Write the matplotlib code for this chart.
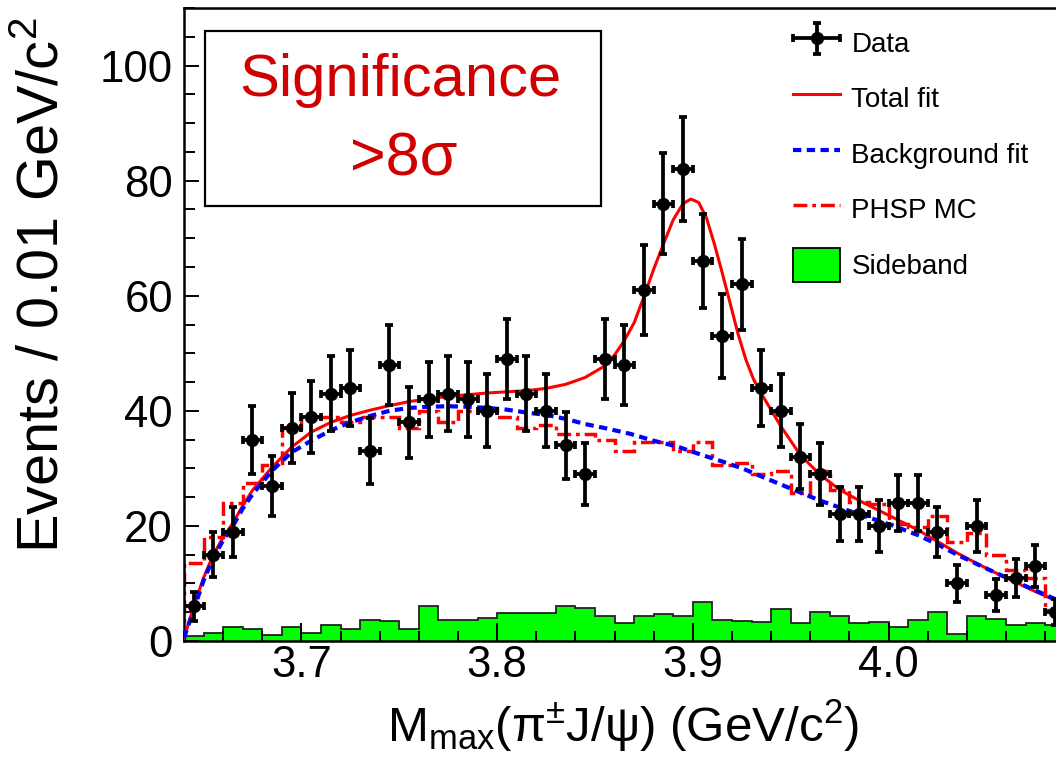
import numpy as np
import matplotlib
matplotlib.use('Agg')
import matplotlib.pyplot as plt
from matplotlib.patches import Rectangle, Patch
from matplotlib.lines import Line2D
from matplotlib.legend_handler import HandlerErrorbar
from matplotlib.ticker import MultipleLocator, FixedLocator, FixedFormatter

plt.rcParams['font.family'] = ['Liberation Sans', 'DejaVu Sans']
plt.rcParams['mathtext.fontset'] = 'custom'
plt.rcParams['mathtext.rm'] = 'Liberation Sans'
plt.rcParams['mathtext.it'] = 'Liberation Sans:italic'
plt.rcParams['mathtext.bf'] = 'Liberation Sans:bold'

# ---------------- data ----------------
bin_lo = 3.64
bin_w = 0.01
n_bins = 45

data_counts = [6, 15, 19, 35, 27, 37, 39, 43, 44, 33,
               48, 38, 42, 43, 42, 40, 49, 43, 40, 34,
               29, 49, 48, 61, 76, 82, 66, 53, 62, 44,
               40, 32, 29, 22, 22, 20, 24, 24, 19, 10,
               20, 8, 11, 13, 5]

sideband = [0.8, 1.4, 2.4, 2.0, 1.0, 2.4, 1.4, 2.8, 2.0, 3.6,
            3.4, 2.0, 6.1, 3.6, 3.6, 4.0, 4.8, 4.8, 4.8, 6.1,
            5.8, 4.4, 3.1, 4.4, 4.7, 4.4, 6.7, 3.6, 3.5, 3.3,
            5.5, 3.1, 5.0, 4.3, 3.1, 3.3, 2.4, 3.6, 5.0, 1.2,
            4.3, 3.8, 2.7, 3.1, 2.7]

phsp_mc = [13.6, 18, 24, 27.5, 30.5, 37, 39, 39, 38, 39,
           39, 37, 40, 38, 40, 40, 39, 37, 37.5, 36,
           36, 35, 33, 34.5, 34.5, 33.1, 34.5, 30.5, 31, 29,
           29.6, 25.7, 29.6, 26.2, 24.1, 23.8, 20.4, 19.8, 21.8, 17.2,
           18.8, 14.9, 12.3, 10.9, 5.4]

bkg_x = [3.640, 3.645, 3.650, 3.655, 3.660, 3.665, 3.670, 3.675, 3.685, 3.695,
         3.705, 3.715, 3.725, 3.735, 3.745, 3.755, 3.765, 3.775, 3.785, 3.795,
         3.805, 3.815, 3.825, 3.835, 3.845, 3.855, 3.868, 3.880, 3.892, 3.904,
         3.915, 3.926, 3.935, 3.945, 3.955, 3.965, 3.975, 3.985, 3.995, 4.005,
         4.015, 4.025, 4.035, 4.045, 4.055, 4.065, 4.075, 4.085, 4.090]
bkg_y = [0.5, 5.5, 10.5, 14.5, 17.5, 20.0, 23.0, 25.5, 29.6, 32.8,
         34.8, 36.6, 38.0, 39.1, 40.0, 40.5, 40.7, 40.8, 40.7, 40.5,
         40.2, 39.7, 39.3, 38.6, 37.7, 37.0, 36.0, 34.8, 33.8, 32.4,
         31.2, 29.9, 28.6, 27.2, 25.8, 24.4, 23.2, 22.0, 20.9, 19.7,
         18.4, 16.8, 15.0, 13.4, 11.8, 10.3, 8.8, 7.3, 6.6]

total_x = [3.640, 3.645, 3.650, 3.655, 3.660, 3.665, 3.670, 3.675, 3.685, 3.695,
           3.705, 3.715, 3.725, 3.735, 3.745, 3.755, 3.765, 3.775, 3.785, 3.795,
           3.805, 3.815, 3.825, 3.835, 3.845, 3.855, 3.860, 3.865, 3.870, 3.875,
           3.880, 3.885, 3.890, 3.895, 3.899, 3.903, 3.907, 3.911, 3.915, 3.919,
           3.923, 3.927, 3.931, 3.935, 3.945, 3.955, 3.965, 3.975, 3.985, 3.995,
           4.005, 4.015, 4.025, 4.035, 4.045, 4.055, 4.065, 4.075, 4.085, 4.090]
total_y = [0.5, 6.0, 11.0, 15.0, 18.0, 20.5, 23.5, 26.2, 30.2, 33.7,
           36.3, 38.0, 39.2, 40.1, 40.9, 41.6, 42.1, 42.5, 42.8, 43.1,
           43.3, 43.5, 43.9, 44.6, 45.8, 47.8, 49.7, 52.2, 55.3, 59.8,
           64.6, 69.0, 73.2, 76.0, 76.8, 76.2, 73.5, 69.0, 64.0, 58.8,
           53.5, 49.0, 45.5, 43.0, 37.3, 32.3, 28.9, 26.3, 24.4, 22.7,
           21.0, 19.3, 17.3, 15.3, 13.5, 11.8, 10.2, 8.6, 7.1, 6.4]

x_tick_vals = [3.7, 3.8, 3.9, 4.0]
x_tick_labels = ['3.7', '3.8', '3.9', '4.0']
y_tick_vals = [0, 20, 40, 60, 80, 100]

# ---------------- figure ----------------
W, H = 1056, 764
fig = plt.figure(figsize=(W / 100, H / 100), dpi=100)

edges = np.round(bin_lo + bin_w * np.arange(n_bins + 1), 4)
centers = 0.5 * (edges[:-1] + edges[1:])
x_min, x_max = edges[0], edges[-1]

ax_left_px, ax_bottom_px, ax_top_px = 184, 641, 8
px_per_unit = 1957.0
ax_w_px = (x_max - x_min) * px_per_unit
ax = fig.add_axes([ax_left_px / W, (H - ax_bottom_px) / H,
                   ax_w_px / W, (ax_bottom_px - ax_top_px) / H])

# sideband
ax.stairs(sideband, edges, fill=True, facecolor='#00ff00',
          edgecolor='#222222', linewidth=1.3, zorder=1)
# PHSP MC (dash-dot step)
ax.stairs(phsp_mc, edges, fill=False, color='#ff0000', linewidth=2.5,
          linestyle=(0, (4.0, 1.4, 1.1, 1.4)), zorder=2)
# total fit
ax.plot(total_x, total_y, color='#ff0000', linewidth=2.2, zorder=3)
# background fit
ax.plot(bkg_x, bkg_y, color='#0000ff', linewidth=3.0,
        linestyle=(0, (2.0, 1.3)), zorder=4)
# data
yerr = np.sqrt(np.array(data_counts, dtype=float))
eb = ax.errorbar(centers, data_counts, yerr=yerr, xerr=bin_w / 2, fmt='o',
                 color='black', markersize=8.5, elinewidth=2.7, capsize=2.6,
                 capthick=2.7, zorder=5)

ax.set_xlim(x_min, x_max)
ax.set_ylim(0, 110)

ax.xaxis.set_major_locator(FixedLocator(x_tick_vals))
ax.xaxis.set_major_formatter(FixedFormatter(x_tick_labels))
ax.xaxis.set_minor_locator(MultipleLocator(0.02))
ax.yaxis.set_major_locator(FixedLocator(y_tick_vals))
ax.yaxis.set_minor_locator(MultipleLocator(5))

ax.tick_params(axis='both', which='both', direction='in', width=1.4,
               colors='black', labelsize=31.5)
ax.tick_params(axis='x', which='major', length=13, pad=3)
ax.tick_params(axis='x', which='minor', length=7)
ax.tick_params(axis='y', which='major', length=11, pad=8)
ax.tick_params(axis='y', which='minor', length=8)
for sp in ax.spines.values():
    sp.set_linewidth(1.8)
ax.set_axisbelow(False)

# axis titles
fig.text(44 / W, 1 - 18 / H, 'Events / 0.01 GeV/c$^{2}$', rotation=90,
         ha='center', va='top', fontsize=41.5)
fig.text(623 / W, 1 - 742 / H,
         'M$_{\\mathrm{max}}$(π$^{\\pm}$J/ψ) (GeV/c$^{2}$)',
         ha='center', va='baseline', fontsize=35.5)

# significance box
fig.patches.append(Rectangle((205 / W, 1 - 206 / H), 396 / W, 175 / H,
                             transform=fig.transFigure, fill=False,
                             edgecolor='black', linewidth=1.6, zorder=10))
fig.text(400 / W, 1 - 80 / H, 'Significance', color='#d00000',
         ha='center', va='center', fontsize=43)
fig.text(404 / W, 1 - 160 / H, '>8σ', color='#d00000',
         ha='center', va='center', fontsize=44)

# legend
h_total = Line2D([], [], color='#ff0000', linewidth=2.2)
h_bkg = Line2D([], [], color='#0000ff', linewidth=3.0, linestyle=(0, (2.0, 1.3)))
h_phsp = Line2D([], [], color='#ff0000', linewidth=2.5,
                linestyle=(0, (4.0, 1.4, 1.1, 1.4)))
h_sb = Patch(facecolor='#00ff00', edgecolor='black', linewidth=1.3)
fig.legend([eb, h_total, h_bkg, h_phsp, h_sb],
           ['Data', 'Total fit', 'Background fit', 'PHSP MC', 'Sideband'],
           handler_map={eb: HandlerErrorbar(xerr_size=0.85, yerr_size=0.55)},
           loc='upper left', bbox_to_anchor=(793 / W, 1 - 25 / H),
           bbox_transform=fig.transFigure, frameon=False, fontsize=20,
           borderpad=0, borderaxespad=0, handlelength=1.7,
           handletextpad=0.4, handleheight=1.55, labelspacing=0.75)

fig.savefig('out.png', dpi=100)
